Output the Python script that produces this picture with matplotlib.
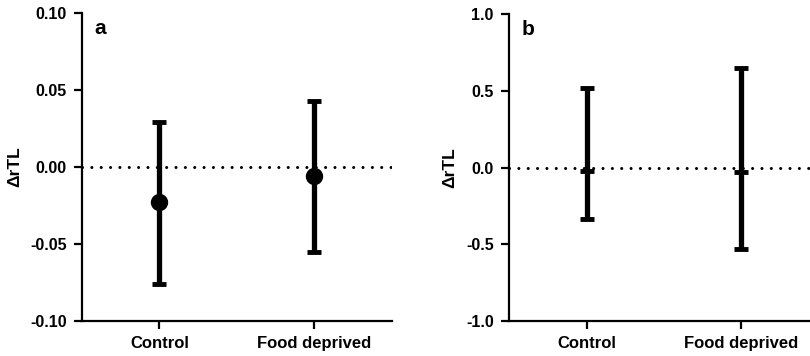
import matplotlib
matplotlib.use('Agg')
import matplotlib.pyplot as plt

plt.rcParams['font.family'] = ['Liberation Sans', 'DejaVu Sans']
plt.rcParams['font.weight'] = 'bold'

groups = ['Control', 'Food deprived']

# panel a
a_mean = [-0.023, -0.006]
a_upper = [0.029, 0.043]
a_lower = [-0.076, -0.055]

# panel b
b_mean = [-0.02, -0.025]
b_upper = [0.52, 0.65]
b_lower = [-0.335, -0.53]

a_ticks = [-0.10, -0.05, 0.00, 0.05, 0.10]
a_ticklabels = ['-0.10', '-0.05', '0.00', '0.05', '0.10']
b_ticks = [-1.0, -0.5, 0.0, 0.5, 1.0]
b_ticklabels = ['-1.0', '-0.5', '0.0', '0.5', '1.0']

fig = plt.figure(figsize=(8.1, 3.56), dpi=100)
ax_a = fig.add_axes([0.1012, 0.0983, 0.3827, 0.8652])
ax_b = fig.add_axes([0.6284, 0.0983, 0.3827, 0.8610])


def draw_panel(ax, means, upper, lower, ticks, ticklabels, letter, marker, msize, ylabel_x):
    x = list(range(len(groups)))
    yerr = [[m - lo for m, lo in zip(means, lower)],
            [hi - m for m, hi in zip(means, upper)]]
    ax.axhline(0, color='black', lw=2.2, ls=(0, (0.01, 3.05)),
               dash_capstyle='round', zorder=1)
    ax.errorbar(x, means, yerr=yerr, fmt=marker, color='black', ms=msize,
                mew=3.5, elinewidth=3.8, capsize=4.7, capthick=3.2, zorder=3)
    ax.set_xlim(-0.5, 1.5)
    ax.set_ylim(ticks[0], ticks[-1])
    ax.set_yticks(ticks)
    ax.set_yticklabels(ticklabels)
    ax.set_xticks(x)
    ax.set_xticklabels(groups)
    for s in ['top', 'right']:
        ax.spines[s].set_visible(False)
    for s in ['left', 'bottom']:
        ax.spines[s].set_linewidth(1.6)
    ax.spines['left'].set_bounds(ticks[0], ticks[-1])
    ax.tick_params(axis='y', length=6, width=1.6, labelsize=11.5, pad=5)
    ax.tick_params(axis='x', length=6, width=1.6, labelsize=12, pad=5)
    for lab in ax.get_xticklabels() + ax.get_yticklabels():
        lab.set_fontweight('bold')
    ax.set_ylabel('ΔrTL', fontsize=12.5, fontweight='bold')
    ax.yaxis.set_label_coords(ylabel_x, 0.5)
    ax.text(0.06, 0.95, letter, transform=ax.transAxes, fontsize=15,
            fontweight='bold', ha='center', va='center')


draw_panel(ax_a, a_mean, a_upper, a_lower, a_ticks, a_ticklabels, 'a', 'o', 9, -0.194)
draw_panel(ax_b, b_mean, b_upper, b_lower, b_ticks, b_ticklabels, 'b', '_', 9.4, -0.168)

fig.savefig('out.png', dpi=100, facecolor='white')
